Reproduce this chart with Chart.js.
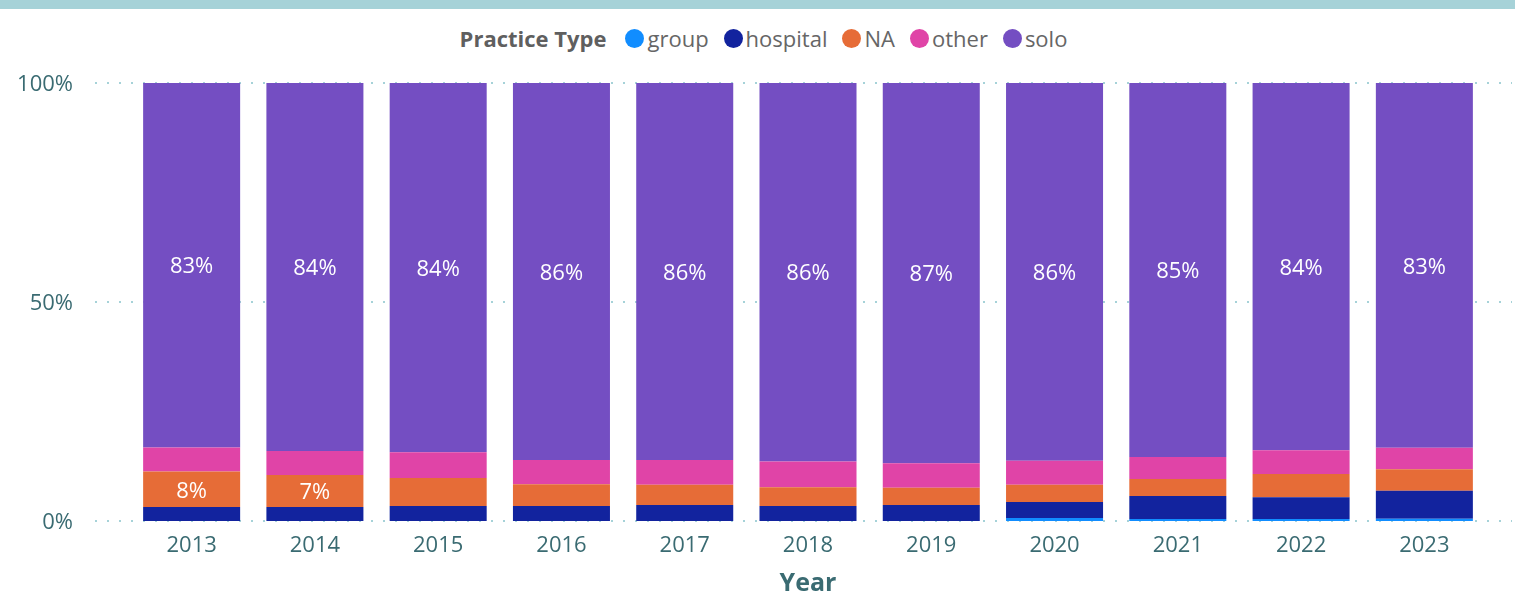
<!DOCTYPE html>
<html>
<head>
<meta charset="utf-8">
<script src="https://cdn.jsdelivr.net/npm/chart.js@4/dist/chart.umd.min.js"></script>
<style>
  html, body { margin: 0; padding: 0; background: #ffffff; }
  #wrap { position: relative; width: 1515px; height: 605px; overflow: hidden; }
  #topbar { position: absolute; left: 0; top: 0; width: 1515px; height: 9px; background: #a6d2d8; }
  #legend { position: absolute; left: 6px; top: 23px; width: 1515px; height: 30px;
            display: flex; justify-content: center; align-items: center;
            font-family: "Open Sans", "Noto Sans", sans-serif; font-size: 22px; color: #666666; }
  #legend .title { font-weight: bold; margin-right: 19px; color: #5f5f5f; }
  #legend .item { display: flex; align-items: center; margin-right: 15px; }
  #legend .item:last-child { margin-right: 0; }
  #legend .dot { width: 19px; height: 19px; border-radius: 50%; margin-right: 3px; }
  canvas { position: absolute; left: 0; top: 0; }
</style>
</head>
<body>
<div id="wrap">
  <div id="topbar"></div>
  <div id="legend"></div>
  <canvas id="chart" width="1515" height="605"></canvas>
</div>
<script>
// Share of practice types per year (percent of total)
const years = ['2013', '2014', '2015', '2016', '2017', '2018', '2019', '2020', '2021', '2022', '2023'];
const seriesNames = ['group', 'hospital', 'NA', 'other', 'solo'];
const seriesColors = ['#118DFF', '#12239E', '#E66C37', '#E044A7', '#744EC2'];

const groupShare    = [0,    0,    0,    0,    0,    0,    0,    0.7,  0.45, 0.45, 0.5];
const hospitalShare = [3.2,  3.2,  3.4,  3.4,  3.65, 3.4,  3.65, 3.65, 5.25, 5.0,  6.4];
const naShare       = [8.1,  7.3,  6.4,  5.0,  4.6,  4.3,  3.95, 3.9,  3.9,  5.3,  4.9];
const otherShare    = [5.5,  5.5,  5.9,  5.5,  5.7,  5.9,  5.6,  5.5,  5.0,  5.4,  4.9];
const soloShare     = [83.2, 84.0, 84.3, 86.1, 86.05, 86.4, 86.8, 86.25, 85.4, 83.85, 83.3];

const yTicks = [0, 50, 100];

const seriesValues = [groupShare, hospitalShare, naShare, otherShare, soloShare];

const FONT = '"Open Sans", "Noto Sans", sans-serif';
const AXIS_COLOR = '#3a6b72';

// Dotted horizontal reference lines spanning the whole plot width
const dottedGrid = {
  id: 'dottedGrid',
  beforeDatasetsDraw(chart) {
    const { ctx } = chart;
    const y = chart.scales.y;
    ctx.save();
    ctx.strokeStyle = '#a6d2d8';
    ctx.lineWidth = 2;
    ctx.setLineDash([2, 10]);
    yTicks.forEach(v => {
      const py = Math.round(y.getPixelForValue(v));
      ctx.beginPath();
      ctx.moveTo(95, py);
      ctx.lineTo(1512, py);
      ctx.stroke();
    });
    ctx.restore();
  }
};

// Value labels drawn in the middle of segments that are tall enough
const segmentLabels = {
  id: 'segmentLabels',
  afterDatasetsDraw(chart) {
    const { ctx } = chart;
    ctx.save();
    ctx.font = '22px ' + FONT;
    ctx.fillStyle = '#ffffff';
    ctx.textAlign = 'center';
    ctx.textBaseline = 'middle';
    chart.data.datasets.forEach((ds, di) => {
      const meta = chart.getDatasetMeta(di);
      meta.data.forEach((bar, i) => {
        const v = ds.data[i];
        const h = Math.abs(bar.base - bar.y);
        if (!v || h < 30) return;
        ctx.fillText(Math.round(v) + '%', bar.x, (bar.y + bar.base) / 2 + 2);
      });
    });
    ctx.restore();
  }
};

// Legend rendered as HTML so the title can sit inline with the items
const htmlLegend = {
  id: 'htmlLegend',
  afterUpdate(chart) {
    const box = document.getElementById('legend');
    box.innerHTML = '';
    const t = document.createElement('span');
    t.className = 'title';
    t.textContent = 'Practice Type';
    box.appendChild(t);
    chart.options.plugins.legend.labels.generateLabels(chart).forEach(item => {
      const el = document.createElement('span');
      el.className = 'item';
      const dot = document.createElement('span');
      dot.className = 'dot';
      dot.style.background = item.fillStyle;
      const txt = document.createElement('span');
      txt.textContent = item.text;
      el.appendChild(dot);
      el.appendChild(txt);
      box.appendChild(el);
    });
  }
};

new Chart(document.getElementById('chart'), {
  type: 'bar',
  data: {
    labels: years,
    datasets: seriesNames.map((name, i) => ({
      label: name,
      data: seriesValues[i],
      backgroundColor: seriesColors[i],
      borderWidth: 0,
      categoryPercentage: 1,
      barPercentage: 0.787
    }))
  },
  options: {
    responsive: false,
    animation: false,
    layout: { padding: { top: 83, right: 29, left: 0, bottom: 0 } },
    plugins: {
      legend: { display: false },
      tooltip: { enabled: false }
    },
    scales: {
      x: {
        stacked: true,
        grid: { display: false, drawTicks: false },
        border: { display: false },
        ticks: { color: AXIS_COLOR, font: { family: FONT, size: 22 }, padding: 12 },
        title: { display: true, text: 'Year', color: AXIS_COLOR,
                 font: { family: FONT, size: 25, weight: 'bold' }, padding: { top: 0, bottom: 6 } },
        afterFit(scale) { scale.height = 84; }
      },
      y: {
        stacked: true,
        min: 0,
        max: 100,
        afterBuildTicks(scale) { scale.ticks = yTicks.map(v => ({ value: v })); },
        grid: { display: false, drawTicks: false },
        border: { display: false },
        ticks: { color: AXIS_COLOR, font: { family: FONT, size: 22 }, padding: 57, labelOffset: 2,
                 callback: v => v + '%' },
        afterFit(scale) { scale.width = 130; }
      }
    }
  },
  plugins: [dottedGrid, segmentLabels, htmlLegend]
});
</script>
</body>
</html>
